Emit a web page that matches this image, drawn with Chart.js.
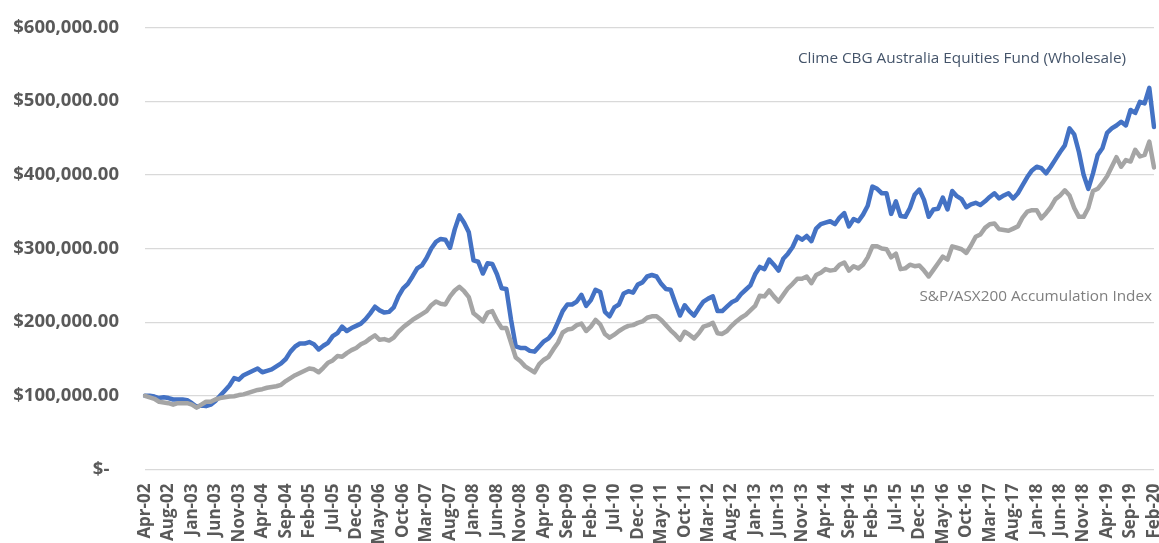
<!DOCTYPE html>
<html>
<head>
<meta charset="utf-8">
<script src="https://cdn.jsdelivr.net/npm/chart.js@4.4.1/dist/chart.umd.min.js"></script>
<style>
html, body { margin: 0; padding: 0; background: #ffffff; overflow: hidden; }
#wrap { position: relative; width: 1159px; height: 600px; }
</style>
</head>
<body>
<div id="wrap"><canvas id="chart"></canvas></div>
<script>
// ---- Data ----
const MONTH_NAMES = ['Jan','Feb','Mar','Apr','May','Jun','Jul','Aug','Sep','Oct','Nov','Dec'];
const START_LABEL = 'Apr-02';           // inception point
const FIRST_MONTH = { year: 2002, month: 3 };  // Apr 2002 (0-based month)
const MONTH_COUNT = 215;                 // Apr-02 .. Feb-20 month-ends

const categories = [START_LABEL];
for (let k = 0; k < MONTH_COUNT; k++) {
  const m = FIRST_MONTH.month + k;
  const y = FIRST_MONTH.year + Math.floor(m / 12);
  categories.push(MONTH_NAMES[m % 12] + '-' + String(y % 100).padStart(2, '0'));
}

const seriesNames = ['Clime CBG Australia Equities Fund (Wholesale)', 'S&P/ASX200 Accumulation Index'];

const fundValues = [
 100000,100000,99000,97000,98000,97000,95000,95000,95000,94000,
 90000,85000,87000,86000,88000,93000,100000,107000,114000,124000,
 122000,128000,131000,134000,137000,132000,134000,136000,140000,144000,
 150000,160000,167000,171000,171000,173000,170000,163000,168000,172000,
 181000,185000,194000,188000,192000,195000,198000,204000,212000,221000,
 216000,213000,214000,220000,235000,246000,252000,262000,273000,277000,
 287000,300000,309000,313000,312000,301000,326000,345000,335000,322000,
 284000,282000,266000,280000,279000,265000,246000,245000,203000,167000,
 165000,165000,161000,160000,167000,174000,178000,186000,200000,215000,
 224000,224000,228000,237000,222000,230000,244000,241000,214000,208000,
 220000,224000,239000,242000,240000,251000,254000,262000,264000,262000,
 252000,245000,244000,226000,209000,223000,215000,209000,219000,228000,
 232000,235000,215000,215000,221000,227000,230000,238000,244000,250000,
 265000,275000,272000,285000,278000,270000,286000,293000,302000,316000,
 312000,317000,310000,327000,333000,335000,337000,333000,342000,348000,
 330000,340000,337000,346000,358000,384000,381000,375000,375000,347000,
 364000,344000,343000,355000,373000,380000,366000,343000,353000,354000,
 369000,353000,378000,371000,367000,356000,360000,362000,359000,364000,
 370000,375000,368000,372000,375000,368000,375000,386000,397000,406000,
 411000,409000,402000,411000,421000,431000,440000,463000,455000,431000,
 400000,381000,402000,427000,436000,457000,463000,467000,472000,467000,
 488000,484000,499000,497000,518000,465000
];

const indexValues = [
 100000,98000,96000,92000,91000,90000,88000,90000,90000,90000,
 88000,84000,88000,92000,92000,95000,97000,98000,99000,99500,
 101000,102000,104000,106000,108000,109000,111000,112000,113000,115000,
 120000,124000,128000,131000,134000,137000,136000,132000,138000,145000,
 148000,154000,153000,158000,162000,165000,170000,173000,178000,182000,
 176000,177000,175000,179000,187000,193000,198000,203000,207000,211000,
 215000,223000,228000,225000,224000,235000,243000,248000,242000,234000,
 212000,207000,201000,213000,215000,202000,192000,192000,172000,152000,
 147000,140000,136000,132000,143000,149000,153000,163000,172000,186000,
 190000,191000,196000,198000,188000,194000,203000,197000,184000,179000,
 183000,188000,192000,195000,196000,199000,201000,206000,208000,208000,
 203000,196000,189000,183000,176000,187000,183000,178000,185000,194000,
 196000,199000,185000,184000,188000,195000,201000,206000,210000,216000,
 222000,236000,235000,243000,235000,228000,237000,246000,252000,259000,
 259000,262000,253000,264000,267000,272000,270000,271000,278000,281000,
 270000,276000,273000,278000,288000,303000,303000,300000,299000,288000,
 293000,272000,273000,278000,276000,277000,270000,262000,271000,280000,
 289000,285000,303000,301000,299000,294000,304000,316000,319000,328000,
 333000,334000,326000,325000,324000,327000,330000,342000,350000,352000,
 352000,341000,348000,356000,367000,372000,379000,372000,355000,343000,
 343000,355000,378000,381000,389000,398000,411000,424000,411000,420000,
 418000,434000,425000,427000,445000,410000
];

const yTickValues = [0, 100000, 200000, 300000, 400000, 500000, 600000];
const yTickLabels = ['$-\u00A0\u00A0', '$100,000.00', '$200,000.00', '$300,000.00', '$400,000.00', '$500,000.00', '$600,000.00'];
const X_LABEL_EVERY = 5;

// ---- Chart ----
const seriesLabelsPlugin = {
  id: 'seriesLabels',
  afterDraw(chart) {
    const ctx = chart.ctx;
    ctx.save();
    ctx.textBaseline = 'middle';
    ctx.textAlign = 'right';
    ctx.font = '15.3px "Open Sans"';
    ctx.fillStyle = '#44546A';
    ctx.fillText(seriesNames[0], 1126, 59);
    ctx.fillStyle = '#7F7F7F';
    ctx.fillText(seriesNames[1], 1152, 297);
    ctx.restore();
  }
};

new Chart(document.getElementById('chart'), {
  type: 'line',
  data: {
    labels: categories,
    datasets: [
      {
        label: seriesNames[0],
        data: fundValues,
        borderColor: '#4472C4',
        backgroundColor: '#4472C4',
        borderWidth: 4.5,
        pointRadius: 0,
        tension: 0,
        borderJoinStyle: 'round',
        borderCapStyle: 'round',
        order: 2
      },
      {
        label: seriesNames[1],
        data: indexValues,
        borderColor: '#A5A5A5',
        backgroundColor: '#A5A5A5',
        borderWidth: 4.5,
        pointRadius: 0,
        tension: 0,
        borderJoinStyle: 'round',
        borderCapStyle: 'round',
        order: 1
      }
    ]
  },
  options: {
    responsive: true,
    maintainAspectRatio: false,
    animation: false,
    devicePixelRatio: 1,
    layout: { padding: { top: 27.5, right: 5, left: 0, bottom: 0 } },
    plugins: { legend: { display: false }, tooltip: { enabled: false } },
    scales: {
      x: {
        type: 'category',
        offset: false,
        grid: { display: false, drawTicks: false },
        border: { display: false },
        ticks: {
          autoSkip: false,
          maxRotation: 90,
          minRotation: 90,
          padding: 14,
          color: '#595959',
          font: { family: '"Open Sans", sans-serif', size: 17, weight: 'bold' },
          callback: (val, idx) => (idx % X_LABEL_EVERY === 0 ? categories[idx] : null)
        },
        afterFit: (axis) => { axis.height = 130.5; axis.paddingLeft = 0; axis.paddingRight = 0; }
      },
      y: {
        min: 0,
        max: 600000,
        grid: { color: '#D9D9D9', lineWidth: 1.3, drawTicks: false },
        border: { display: false },
        afterBuildTicks: (axis) => { axis.ticks = yTickValues.map(v => ({ value: v })); },
        ticks: {
          padding: 26,
          color: '#595959',
          font: { family: '"Open Sans", sans-serif', size: 18.5, weight: 'bold' },
          callback: (value) => yTickLabels[yTickValues.indexOf(value)]
        },
        afterFit: (axis) => { axis.width = 145; axis.paddingTop = 0; axis.paddingBottom = 0; }
      }
    }
  },
  plugins: [seriesLabelsPlugin]
});
</script>
</body>
</html>
